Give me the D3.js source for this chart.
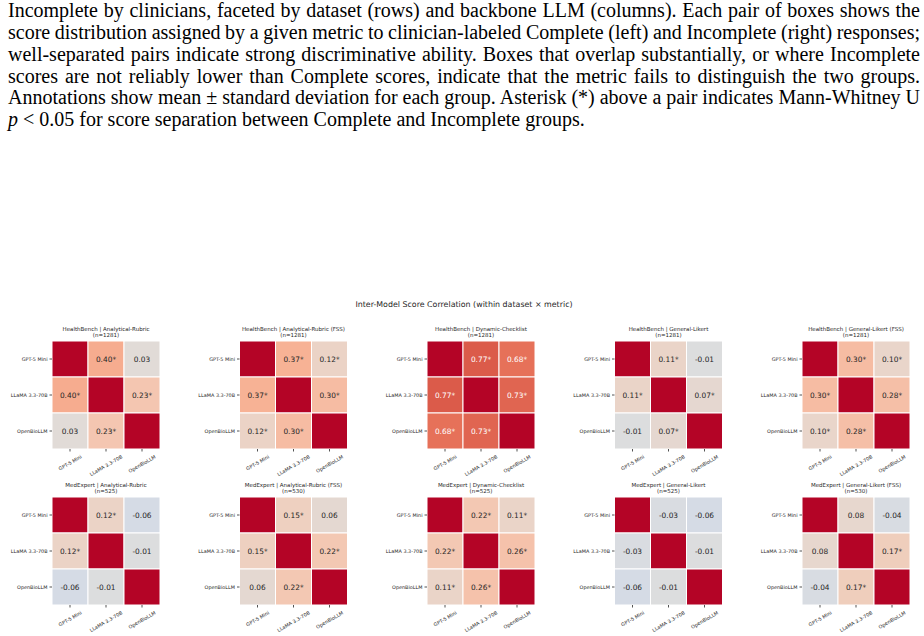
<!DOCTYPE html>
<html>
<head>
<meta charset="utf-8">
<script src="https://cdn.jsdelivr.net/npm/d3@7"></script>
<style>
  html, body { margin: 0; padding: 0; background: #fff; }
  svg { display: block; }
  .caption { font-family: "Liberation Serif", "Times New Roman", Times, serif; }
</style>
</head>
<body>
<svg id="chart" width="924" height="636"></svg>
<script>
  // ── Data ─────────────────────────────────────────────────────────────────
  const models   = ["GPT-5 Mini", "LLaMA 3.3-70B", "OpenBioLLM"];
  const datasets = ["HealthBench", "MedExpert"];
  const metrics  = ["Analytical-Rubric", "Analytical-Rubric (FSS)", "Dynamic-Checklist",
                    "General-Likert", "General-Likert (FSS)"];
  const sampleN  = [[1281, 1281, 1281, 1281, 1281],
                    [525, 530, 525, 525, 530]];

  // pairwise correlations per panel: [GPT–LLaMA, GPT–OpenBio, LLaMA–OpenBio]
  const pairCorr = [
    [[0.40, 0.03, 0.23], [0.37, 0.12, 0.30], [0.77, 0.68, 0.73], [0.11, -0.01, 0.07], [0.30, 0.10, 0.28]],
    [[0.12, -0.06, -0.01], [0.15, 0.06, 0.22], [0.22, 0.11, 0.26], [-0.03, -0.06, -0.01], [0.08, -0.04, 0.17]]
  ];
  const pairSig = [
    [[1, 0, 1], [1, 1, 1], [1, 1, 1], [1, 0, 1], [1, 1, 1]],
    [[1, 0, 0], [1, 0, 1], [1, 1, 1], [0, 0, 0], [0, 0, 1]]
  ];

  const captionLines = [
    "Incomplete by clinicians, faceted by dataset (rows) and backbone LLM (columns). Each pair of boxes shows the",
    "score distribution assigned by a given metric to clinician-labeled Complete (left) and Incomplete (right) responses;",
    "well-separated pairs indicate strong discriminative ability. Boxes that overlap substantially, or where Incomplete",
    "scores are not reliably lower than Complete scores, indicate that the metric fails to distinguish the two groups.",
    "Annotations show mean \u00b1 standard deviation for each group. Asterisk (*) above a pair indicates Mann-Whitney U"
  ];
  const captionLast = " < 0.05 for score separation between Complete and Incomplete groups.";

  // coolwarm stops (Moreland), sampled across [-1, 1]
  const coolwarm = ["#3b4cc0", "#4d68d7", "#6282ea", "#779af7", "#8db0fe", "#a3c2ff",
                    "#b8d0f9", "#ccd9ee", "#dddddd", "#ecd3c5", "#f5c4ad", "#f7b194",
                    "#f49a7b", "#ec7f63", "#de604d", "#cb3e38", "#b40426"];

  // ── Layout ───────────────────────────────────────────────────────────────
  const SIZE   = 108;
  const COL_X0 = 52, COL_STEP = 187.5;
  const ROW_Y  = [341, 497];
  const FONT   = "'DejaVu Sans', sans-serif";
  const INK    = "#262626";
  const CAP_X  = 8, CAP_W = 912, CAP_Y = 17.3, CAP_LEAD = 21.75;

  const svg = d3.select("#chart");

  // ── Caption (paper text above the figure), justified by word spacing ─────
  const cap = svg.append("g")
    .attr("class", "caption")
    .attr("font-size", 20)
    .attr("fill", "#000");

  captionLines.forEach((line, i) => {
    const t = cap.append("text")
      .attr("x", CAP_X)
      .attr("y", CAP_Y + i * CAP_LEAD)
      .text(line);
    const natural = t.node().getComputedTextLength();
    const gaps = line.split(" ").length - 1;
    t.attr("word-spacing", (CAP_W - natural) / gaps);
  });
  const last = cap.append("text").attr("x", CAP_X).attr("y", CAP_Y + 5 * CAP_LEAD);
  last.append("tspan").attr("font-style", "italic").text("p");
  last.append("tspan").text(captionLast);

  // ── Suptitle ─────────────────────────────────────────────────────────────
  svg.append("text")
    .attr("x", 464)
    .attr("y", 307)
    .attr("text-anchor", "middle")
    .attr("font-family", FONT)
    .attr("font-size", 7.9)
    .attr("fill", INK)
    .text("Inter-Model Score Correlation (within dataset \u00d7 metric)");

  const color = d3.scaleLinear()
    .domain(d3.range(coolwarm.length).map(i => -1 + 2 * i / (coolwarm.length - 1)))
    .range(coolwarm)
    .interpolate(d3.interpolateRgb)
    .clamp(true);

  function textColor(fill) {
    const c = d3.rgb(fill);
    const lin = v => { v /= 255; return v <= 0.03928 ? v / 12.92 : Math.pow((v + 0.055) / 1.055, 2.4); };
    const lum = 0.2126 * lin(c.r) + 0.7152 * lin(c.g) + 0.0722 * lin(c.b);
    return lum > 0.408 ? INK : "#ffffff";
  }

  const band = d3.scaleBand().domain(models).range([0, SIZE]);

  datasets.forEach((ds, r) => {
    metrics.forEach((m, c) => {
      const x0 = COL_X0 + c * COL_STEP;
      const y0 = ROW_Y[r];
      const [ab, ac, bc] = pairCorr[r][c];
      const [sab, sac, sbc] = pairSig[r][c];
      const mat = [[1, ab, ac], [ab, 1, bc], [ac, bc, 1]];
      const sig = [[0, sab, sac], [sab, 0, sbc], [sac, sbc, 0]];

      const g = svg.append("g").attr("transform", `translate(${x0},${y0})`);

      // panel title
      const t = g.append("text")
        .attr("x", SIZE / 2)
        .attr("text-anchor", "middle")
        .attr("font-family", FONT)
        .attr("font-size", 5.5)
        .attr("fill", INK);
      t.append("tspan").attr("x", SIZE / 2).attr("y", -10).text(`${ds} | ${m}`);
      t.append("tspan").attr("x", SIZE / 2).attr("y", -3.8).text(`(n=${sampleN[r][c]})`);

      // cells
      const cells = [];
      mat.forEach((row, i) => row.forEach((v, j) => cells.push({ i, j, v, s: sig[i][j] })));

      g.selectAll("rect.cell")
        .data(cells)
        .join("rect")
        .attr("class", "cell")
        .attr("x", d => band(models[d.j]))
        .attr("y", d => band(models[d.i]))
        .attr("width", band.bandwidth())
        .attr("height", band.bandwidth())
        .attr("fill", d => color(d.v))
        .attr("stroke", "#fff")
        .attr("stroke-width", 1);

      g.selectAll("text.ann")
        .data(cells.filter(d => d.i !== d.j))
        .join("text")
        .attr("class", "ann")
        .attr("x", d => band(models[d.j]) + band.bandwidth() / 2)
        .attr("y", d => band(models[d.i]) + band.bandwidth() / 2)
        .attr("dy", "0.35em")
        .attr("text-anchor", "middle")
        .attr("font-family", FONT)
        .attr("font-size", 7.4)
        .attr("fill", d => textColor(color(d.v)))
        .text(d => d.v.toFixed(2) + (d.s ? "*" : ""));

      // y axis
      const yAx = g.append("g")
        .call(d3.axisLeft(band).tickSize(2.5).tickPadding(2));
      yAx.select(".domain").remove();
      yAx.selectAll(".tick line").attr("stroke", INK).attr("stroke-width", 0.8);
      yAx.selectAll(".tick text")
        .attr("font-family", FONT)
        .attr("font-size", 4.9)
        .attr("fill", INK);

      // x axis, labels rotated 30°
      const xAx = g.append("g")
        .attr("transform", `translate(0,${SIZE})`)
        .call(d3.axisBottom(band).tickSize(2.5).tickPadding(2));
      xAx.select(".domain").remove();
      xAx.selectAll(".tick line").attr("stroke", INK).attr("stroke-width", 0.8);
      xAx.selectAll(".tick text")
        .attr("font-family", FONT)
        .attr("font-size", 4.9)
        .attr("fill", INK)
        .attr("text-anchor", "middle")
        .attr("dy", null)
        .attr("y", 0)
        .attr("dominant-baseline", "central")
        .attr("transform", function () {
          const w = this.getComputedTextLength();
          const h = 4.9;
          const boxH = w * 0.5 + h * 0.866;
          return `translate(0,${5 + boxH / 2}) rotate(-30)`;
        });
    });
  });
</script>
</body>
</html>
